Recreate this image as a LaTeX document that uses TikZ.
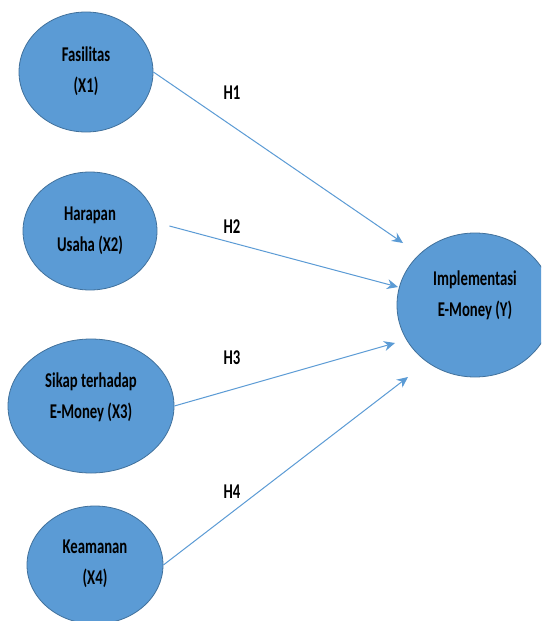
\documentclass[tikz,border=0pt]{standalone}
\usepackage{fontspec}
\newfontfamily\lblfont{Carlito}[FakeStretch=0.70]
\usetikzlibrary{arrows.meta,shapes.geometric}
\definecolor{fillblue}{HTML}{5B9BD5}
\definecolor{edgeblue}{HTML}{41719C}
\definecolor{linkblue}{HTML}{5B9BD5}
\tikzset{
  var/.style={ellipse, draw=edgeblue, fill=fillblue, line width=0.8pt, inner sep=0pt},
  lbl/.style={align=center, font=\lblfont\bfseries\fontsize{21}{31}\selectfont, text=black, inner sep=0pt},
  link/.style={draw=linkblue, line width=1pt, -{Stealth[length=11pt,width=10pt]}},
}
\begin{document}
\begin{tikzpicture}[x=1pt,y=-1pt]
\clip (0,0) rectangle (541,621);
\fill[white] (0,0) rectangle (541,621);
% ellipses
\node[var, minimum width=134pt, minimum height=120pt] (x1) at (86,72) {};
\node[var, minimum width=134pt, minimum height=118pt] (x2) at (90,231) {};
\node[var, minimum width=166pt, minimum height=134pt] (x3) at (91,406) {};
\node[var, minimum width=136pt, minimum height=118pt] (x4) at (95,565) {};
\node[var, minimum width=156pt, minimum height=144pt] (y) at (475,305) {};
% texts
\node[lbl] (tx1) at (86,71) {Fasilitas\\(X1)};
\node[lbl] (tx2) at (90,231) {Harapan\\Usaha (X2)};
\node[lbl] (tx3) at (91,397) {Sikap terhadap\\E-Money (X3)};
\node[lbl] (tx4) at (95,564) {Keamanan\\(X4)};
\node[lbl] (ty) at (475,295) {Implementasi\\E-Money (Y)};
% arrow tips
\coordinate (t1) at (403,243);
\coordinate (t2) at (398,287);
\coordinate (t3) at (395,343);
\coordinate (t4) at (408,377);
\draw[link] (x1.east) -- (t1);
\draw[link] ([shift={(12,-5)}]x2.east) -- (t2);
\draw[link] (x3.east) -- (t3);
\draw[link] (x4.east) -- (t4);
% hypothesis labels
\node[lbl] (h1) at (232,93) {H1};
\node[lbl] (h2) at (232,227) {H2};
\node[lbl] (h3) at (232,358) {H3};
\node[lbl] (h4) at (232,492) {H4};
\end{tikzpicture}
\end{document}
